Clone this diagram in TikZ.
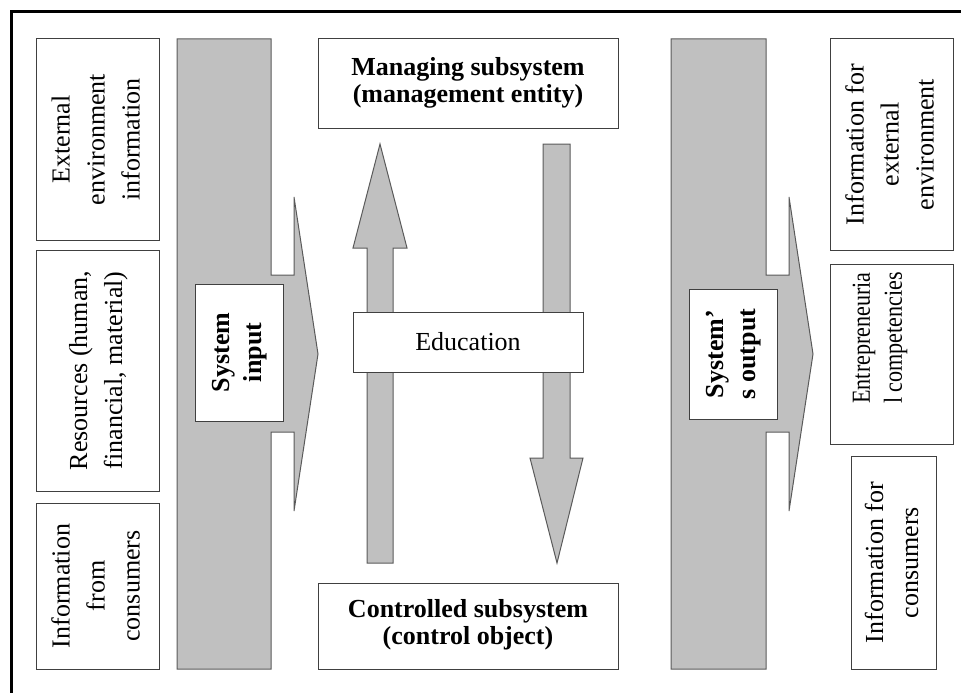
\documentclass[tikz,border=0pt]{standalone}
\usepackage{fontspec}
\setmainfont{Liberation Serif}
\usepackage{graphicx}
\definecolor{fillgray}{HTML}{C0C0C0}
\definecolor{edgegray}{HTML}{5A5A5A}
\definecolor{boxline}{HTML}{404040}
\newcommand{\txtA}{\fontsize{26}{35}\selectfont}
\newcommand{\txtB}{\fontsize{26}{27}\selectfont\bfseries}
\newcommand{\txtC}{\fontsize{26}{32}\selectfont\bfseries}
\newcommand{\txtD}{\fontsize{26}{32}\selectfont}
\newcommand{\vtext}[2]{\rotatebox{90}{#1\begin{tabular}{@{}c@{}}#2\end{tabular}}}
\tikzset{
  box/.style={draw=boxline, fill=white, line width=1pt, inner sep=0pt, outer sep=0pt},
  grayshape/.style={draw=edgegray, fill=fillgray, line width=1pt, line join=miter},
  frameline/.style={draw=black, line width=3pt}
}
\begin{document}
\begin{tikzpicture}[x=1pt,y=-1pt]
\useasboundingbox (0,0) rectangle (961,693);
% outer frame (only top and left visible)
\draw[frameline] (11.5,693) -- (11.5,11.5) -- (961,11.5);

% system input shape
\draw[grayshape] (177,39) -- (271,39) -- (271,275) -- (294,275) -- (294,197) -- (318,354)
  -- (294,511) -- (294,432) -- (271,432) -- (271,669) -- (177,669) -- cycle;
% system output shape
\draw[grayshape] (671,39) -- (766,39) -- (766,275) -- (789,275) -- (789,197) -- (813,354)
  -- (789,511) -- (789,432) -- (766,432) -- (766,669) -- (671,669) -- cycle;

% up and down arrows
\draw[grayshape] (367,563) -- (367,248) -- (353,248) -- (380,144) -- (407,248) -- (393,248) -- (393,563) -- cycle;
\draw[grayshape] (543,144) -- (570,144) -- (570,458) -- (583,458) -- (557,563) -- (530,458) -- (543,458) -- cycle;

% left boxes
\node[box, minimum width=123pt, minimum height=201pt] (ext) at (97.5,139.5)
  {\txtA\vtext{}{External\\environment\\information}};
\node[box, minimum width=123pt, minimum height=241pt] (res) at (97.5,370.5)
  {\txtA\vtext{}{Resources (human,\\financial, material)}};
\node[box, minimum width=123pt, minimum height=166pt] (cons) at (97.5,586)
  {\txtA\vtext{}{Information\\from\\consumers}};

% system input / output labels
\node[box, minimum width=88pt, minimum height=137pt] (sin) at (239,352.5)
  {\txtC\vtext{}{System\\input}};
\node[box, minimum width=88pt, minimum height=130pt] (sout) at (733,354)
  {\txtC\vtext{}{System’\\s output}};

% central boxes
\node[box, minimum width=300pt, minimum height=89pt] (mgr) at (468,83.5)
  {\txtB\begin{tabular}{@{}c@{}}Managing subsystem\\(management entity)\end{tabular}};
\node[box, minimum width=230pt, minimum height=60pt] (edu) at (468,342)
  {\fontsize{26}{30}\selectfont Education};
\node[box, minimum width=300pt, minimum height=86pt] (ctl) at (468,626)
  {\txtB\begin{tabular}{@{}c@{}}Controlled subsystem\\(control object)\end{tabular}};

% right boxes
\node[box, minimum width=123pt, minimum height=211pt] (oext) at (891.5,144.5)
  {\txtA\vtext{}{Information for\\external\\environment}};
\node[box, minimum width=123pt, minimum height=180pt] (ent) at (891.5,354)
  {\txtD\rotatebox{90}{\hspace{32pt}\raisebox{12pt}[\height][\depth]{\scalebox{0.85}[1]{\begin{tabular}{@{}c@{}}Entrepreneuria\\l competencies\end{tabular}}}}};
\node[box, minimum width=85pt, minimum height=213pt] (ocons) at (893.5,562.5)
  {\txtA\vtext{}{Information for\\consumers}};
\end{tikzpicture}
\end{document}
